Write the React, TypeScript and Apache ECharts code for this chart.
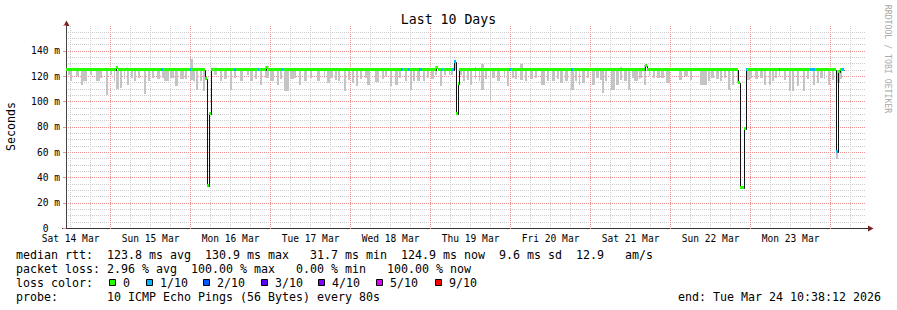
import React, { useEffect, useRef } from 'react';
import * as echarts from 'echarts';

// ---- time axis (hours after Sat 14 Mar 00:00) ----
const T_START = 10.637; // Sat 14 Mar 10:38:12
const T_END = 250.637; // Tue 24 Mar 10:38:12
const Y_MAX = 160; // ms

const dayLabels = ['Sat 14 Mar', 'Sun 15 Mar', 'Mon 16 Mar', 'Tue 17 Mar', 'Wed 18 Mar', 'Thu 19 Mar', 'Fri 20 Mar', 'Sat 21 Mar', 'Sun 22 Mar', 'Mon 23 Mar'];
const dayLabelHours = [12, 36, 60, 84, 108, 132, 156, 180, 204, 228];

// median rtt steps: [hour, ms] (value holds until next step)
const medianSteps: [number, number][] = [
  [10.637, 124.9], [25.6, 126.5], [26.2, 124.9],
  [52.3, 118], [52.9, 33.5], [53.5, 90], [54.1, 124.9],
  [70.7, 126.5], [71.3, 124.9],
  [121.6, 126.8], [122.2, 124.9],
  [126.9, 131.5], [127.5, 90.5], [128.2, 114], [128.6, 124.9],
  [184.3, 128.5], [184.9, 124.9],
  [212.3, 115], [212.8, 31.8], [214.0, 78.5], [214.6, 124.9],
  [241.5, 60], [242.1, 123.5], [242.7, 124.9], [243.9, 124.9],
];

// periods with packet loss: [start hour, end hour, loss level index]
const lossSpans: [number, number, number][] = [
  [39.2, 39.8, 1], [47.7, 48.2, 1], [61.1, 61.6, 1], [68.1, 68.6, 1], [75.4, 75.8, 1],
  [111.2, 111.8, 1], [113.3, 113.9, 1], [116.6, 117.5, 1], [123.4, 123.8, 1],
  [126.5, 126.9, 1], [126.9, 127.5, 1], [143.6, 144.2, 1], [162.2, 162.8, 1],
  [214.6, 215.0, 1], [224.4, 224.8, 1], [233.9, 235.4, 1], [241.5, 242.1, 1], [243.4, 243.9, 1],
];

// smoke (ping spread): [start hour, end hour, low ms, high ms]
const smokeBars: [number, number, number, number][] = [
  [11.1, 11.7, 121, 125], [11.9, 12.5, 116, 125], [13.7, 14.4, 120.5, 125], [15.1, 15.7, 113, 125],
  [15.7, 16.9, 116, 125], [17.9, 18.4, 121, 125], [19.7, 20.7, 116, 125], [20.9, 21.4, 119, 125],
  [22.7, 23.1, 105, 125], [23.9, 24.4, 121, 125], [24.9, 25.4, 116, 125], [25.7, 26.4, 110, 125],
  [26.7, 27.4, 110.6, 125], [27.9, 28.4, 118, 125], [28.9, 29.5, 113, 125], [30.1, 30.7, 119, 125],
  [31.1, 31.7, 116, 125], [32.1, 32.9, 119, 125], [33.9, 34.5, 106, 125], [35.1, 35.7, 116, 125],
  [36.4, 37.1, 119, 125], [37.9, 38.9, 118, 125], [39.4, 39.9, 119, 125], [39.9, 41.4, 116, 125],
  [41.9, 42.9, 119, 125], [43.4, 44.1, 112, 125], [44.9, 45.9, 118, 125], [46.4, 46.9, 118, 125],
  [47.7, 48.7, 117, 134], [48.7, 49.4, 116, 125], [49.7, 50.2, 109, 125], [50.7, 51.4, 116, 125],
  [51.7, 52.3, 108, 125], [55.1, 55.9, 121, 125], [56.9, 57.4, 116, 125], [57.9, 58.9, 118, 125],
  [59.7, 60.4, 109, 125], [60.9, 61.7, 119, 125], [62.9, 63.7, 116, 125], [64.9, 65.4, 121, 125],
  [65.9, 66.7, 116, 125], [67.4, 67.9, 118, 125], [68.7, 69.4, 113, 125], [70.4, 71.5, 119, 128.5],
  [71.9, 72.9, 116, 125], [73.9, 74.4, 113, 125], [74.9, 75.4, 118, 125], [76.1, 77.4, 108, 125],
  [77.9, 78.9, 118, 125], [78.9, 79.7, 119, 125], [80.4, 81.1, 113, 125], [81.9, 82.9, 116, 125],
  [83.9, 84.4, 119, 125], [85.9, 86.9, 116, 125], [87.9, 88.4, 119, 125], [88.9, 89.7, 115, 125],
  [89.9, 90.6, 119, 125], [91.2, 91.9, 117, 125], [92.2, 92.9, 116, 125], [93.9, 94.6, 108.4, 125],
  [95.2, 95.9, 117, 125], [96.4, 96.9, 115, 125], [97.6, 98.2, 112, 125], [98.9, 99.4, 118, 125],
  [100.4, 100.9, 119, 125], [100.9, 101.7, 113, 125], [103.2, 104.4, 115.8, 125], [105.4, 105.9, 118, 125],
  [106.4, 106.9, 120.5, 125], [107.9, 108.4, 112, 125], [109.4, 110.2, 113, 125], [110.6, 111.2, 119, 125],
  [112.2, 112.9, 116, 125], [113.9, 114.4, 109, 125], [114.6, 115.4, 116, 125], [115.9, 116.9, 116, 125],
  [117.6, 118.4, 116, 125], [118.9, 119.4, 119, 125], [120.2, 120.9, 118, 125], [121.4, 122.0, 121, 128.5],
  [122.9, 123.4, 112, 125], [123.9, 124.6, 121, 125], [125.4, 125.9, 121, 125], [126.2, 126.7, 121, 125],
  [126.9, 127.5, 125, 133], [128.4, 129.4, 121, 125], [129.6, 130.4, 116, 125], [130.9, 131.4, 117, 125],
  [131.9, 132.4, 113, 125], [133.2, 133.6, 118, 127.7], [134.4, 134.9, 116, 125], [135.2, 136.0, 109, 129.5],
  [136.4, 136.9, 118, 125], [137.7, 138.1, 101, 125], [138.4, 139.4, 119, 125], [139.9, 140.9, 116, 125],
  [141.9, 142.4, 119, 125], [142.9, 143.4, 112, 125], [144.4, 144.9, 119, 125], [145.4, 145.9, 118, 125],
  [146.9, 147.6, 117, 129.5], [148.2, 148.9, 116, 125], [149.9, 150.6, 118, 125], [151.4, 151.9, 119, 125],
  [153.2, 154.4, 113, 125], [154.9, 155.4, 116, 125], [156.4, 157.4, 116, 125], [157.9, 158.4, 118, 125],
  [158.9, 159.6, 114.5, 125], [160.4, 161.2, 116, 125], [162.2, 162.9, 109, 125], [163.2, 163.9, 116, 125],
  [164.4, 164.9, 113, 125], [165.4, 166.2, 114.5, 125], [166.9, 167.4, 119, 125], [168.4, 169.4, 113, 125],
  [169.7, 170.4, 119, 125], [170.9, 171.4, 117, 125], [171.4, 172.1, 106.6, 125], [172.4, 172.9, 116, 125],
  [174.1, 175.4, 109, 125], [175.7, 176.4, 113, 125], [176.7, 177.4, 117, 127], [177.9, 178.9, 116, 125],
  [179.1, 179.9, 109, 125], [180.4, 180.9, 119, 125], [181.1, 182.1, 116, 125], [182.4, 182.9, 118, 125],
  [182.9, 183.4, 119, 125], [183.9, 184.6, 113, 129], [185.4, 185.9, 120.5, 125], [186.7, 187.4, 119, 125],
  [187.9, 188.9, 119, 125], [189.1, 190.1, 119, 125], [190.7, 191.9, 114.5, 125], [194.4, 195.4, 117, 125],
  [195.9, 197.1, 120, 125], [197.7, 198.4, 117, 125], [200.7, 202.9, 113, 125], [203.1, 203.7, 116, 125],
  [204.1, 204.9, 119, 125], [205.7, 206.4, 118, 125], [206.7, 207.4, 116, 125], [207.9, 208.6, 119, 125],
  [209.1, 209.9, 109, 125], [210.4, 210.9, 113, 125], [211.9, 212.3, 114.5, 125], [214.9, 215.7, 117, 125],
  [215.9, 216.4, 119, 125], [217.4, 218.1, 118, 125], [218.9, 219.7, 119, 125], [219.9, 220.7, 113, 125],
  [221.4, 222.1, 113, 125], [222.4, 222.9, 116, 125], [223.4, 223.9, 119, 125], [224.4, 224.9, 120.5, 125],
  [225.9, 226.7, 117, 125], [227.4, 228.1, 108.4, 125], [228.4, 229.1, 108, 125], [229.9, 230.6, 112, 125],
  [231.7, 232.4, 108, 125], [232.9, 233.4, 118, 125], [234.7, 235.4, 113, 125], [235.9, 236.4, 114.5, 125],
  [236.9, 237.7, 119, 125], [237.9, 238.4, 118, 125], [239.1, 239.9, 113, 125], [240.4, 240.9, 117, 125],
  [241.5, 242.1, 55, 61], [241.9, 242.7, 114.5, 125], [242.9, 243.4, 118, 125],
];

const lossLabels = ['0', '1/10', '2/10', '3/10', '4/10', '5/10', '9/10'];
const lossColors = ['#26ff00', '#00b8ff', '#0059ff', '#5e00ff', '#7e00ff', '#dd00ff', '#ff0000'];

const statsRow1: [number, string][] = [[0, 'median rtt:'], [13, '123.8 ms avg'], [27, '130.9 ms max'], [42, '31.7 ms min'], [55, '124.9 ms now'], [69, '9.6 ms sd'], [80, '12.9'], [87, 'am/s']];
const statsRow2: [number, string][] = [[0, 'packet loss:'], [13, '2.96 % avg'], [25, '100.00 % max'], [40, '0.00 % min'], [53, '100.00 % now']];
const statsRow4: [number, string][] = [[0, 'probe:'], [13, '10 ICMP Echo Pings (56 Bytes) every 80s']];
const endText = 'end: Tue Mar 24 10:38:12 2026';

// ---- layout constants ----
const MONO = '"DejaVu Sans Mono", monospace';
const LEG_X = 16;
const CH = 7.0;
const ROW_Y = [254.5, 268.5, 282.5, 296.5];
const BOX_X = [109, 146, 203, 261, 318, 376, 435];
const MAJOR = '#f09090';
const MINOR = '#cccccc';
const SMOKE = '#c4c4c4';

function valueAt(h: number): number {
  let v = medianSteps[0][1];
  for (const [t, val] of medianSteps) {
    if (t <= h + 1e-9) v = val;
  }
  return v;
}

export default function App() {
  const ref = useRef<HTMLDivElement>(null);

  useEffect(() => {
    if (!ref.current) return;
    const chart = echarts.init(ref.current, undefined, { renderer: 'svg' });

    const gridHours: [number, number][] = [];
    for (let h = 12; h < T_END; h += 6) gridHours.push([h, h % 24 === 0 ? 1 : 0]);

    const stepSegs = medianSteps.slice(0, -1).map((s, i) => [s[0], s[1], medianSteps[i + 1][0], medianSteps[i + 1][1]]);
    const bandSegs = medianSteps.slice(0, -1).map((s, i) => [s[0], medianSteps[i + 1][0], s[1], 0]);
    const lossSegs = lossSpans.map(([s, e, l]) => [s, e, valueAt(s), l]);

    const bandRender = (params: any, api: any) => {
      const a = api.coord([api.value(0), api.value(2)]);
      const b = api.coord([api.value(1), api.value(2)]);
      const x0 = Math.round(a[0]);
      const x1 = Math.max(Math.round(b[0]), x0 + 1);
      const y = Math.floor(a[1] - 1.5);
      return { type: 'rect', shape: { x: x0, y, width: x1 - x0, height: 3 }, style: { fill: lossColors[api.value(3)] } };
    };

    const textStyle = (text: string, size: number, align: string, fill = '#000') => ({
      text, fill, font: `${size}px ${MONO}`, align, verticalAlign: 'middle',
    });

    const graphics: any[] = [];
    graphics.push({ type: 'text', x: 448.5, y: 19.5, style: textStyle('Last 10 Days', 13.2, 'center') });
    graphics.push({ type: 'text', x: 10.5, y: 126.5, rotation: Math.PI / 2, style: textStyle('Seconds', 11.63, 'center') });
    graphics.push({ type: 'text', x: 888, y: 59, rotation: -Math.PI / 2, style: textStyle('RRDTOOL / TOBI OETIKER', 8.2, 'center', '#aaaaaa') });
    // axis arrows & extensions
    graphics.push({ type: 'polygon', shape: { points: [[63.5, 26], [66.5, 20.5], [69.5, 26]] }, style: { fill: '#7f1f1f' } });
    graphics.push({ type: 'polygon', shape: { points: [[868, 225.5], [873.5, 228.5], [868, 231.5]] }, style: { fill: '#7f1f1f' } });
    graphics.push({ type: 'line', shape: { x1: 62, y1: 228.5, x2: 66, y2: 228.5 }, style: { stroke: '#333', lineWidth: 1 } });
    graphics.push({ type: 'line', shape: { x1: 866, y1: 228.5, x2: 869, y2: 228.5 }, style: { stroke: '#333', lineWidth: 1 } });

    const pushRow = (row: [number, string][], y: number) => {
      row.forEach(([col, t]) => graphics.push({ type: 'text', x: LEG_X + col * CH, y, style: textStyle(t, 11.63, 'left') }));
    };
    pushRow(statsRow1, ROW_Y[0]);
    pushRow(statsRow2, ROW_Y[1]);
    pushRow([[0, 'loss color:']], ROW_Y[2]);
    lossLabels.forEach((lab, i) => {
      graphics.push({ type: 'rect', shape: { x: BOX_X[i] + 0.5, y: ROW_Y[2] - 3, width: 6, height: 6 }, style: { fill: lossColors[i], stroke: '#000', lineWidth: 1 } });
      graphics.push({ type: 'text', x: BOX_X[i] + 14, y: ROW_Y[2], style: textStyle(lab, 11.63, 'left') });
    });
    pushRow(statsRow4, ROW_Y[3]);
    graphics.push({ type: 'text', x: 881, y: ROW_Y[3], style: textStyle(endText, 11.63, 'right') });

    const option: any = {
      animation: false,
      backgroundColor: '#ffffff',
      grid: { left: 66, right: 31, top: 25.6, bottom: 81.7, containLabel: false },
      xAxis: {
        type: 'value', min: T_START, max: T_END,
        axisLine: { show: true, onZero: true, lineStyle: { color: '#333', width: 1 } },
        axisTick: { show: false }, axisLabel: { show: false }, splitLine: { show: false },
      },
      yAxis: {
        type: 'value', min: 0, max: Y_MAX, interval: 20,
        axisLine: { show: true, lineStyle: { color: '#444', width: 1 } },
        axisTick: { show: true, length: 3, lineStyle: { color: MAJOR } },
        axisLabel: {
          margin: 6, color: '#000', fontFamily: MONO, fontSize: 9.6,
          formatter: (v: number) => (v >= Y_MAX ? '' : v === 0 ? '{z|0}' : `${v} m`),
          rich: { z: { fontFamily: MONO, fontSize: 9.6, color: '#000', padding: [0, 11.5, 0, 0] } },
        },
        splitLine: { show: true, showMaxLine: false, lineStyle: { color: MAJOR, type: [1, 1], width: 1 } },
        minorTick: { show: false, splitNumber: 4 },
        minorSplitLine: { show: true, lineStyle: { color: MINOR, type: [1, 1], width: 1 } },
      },
      series: [
        {
          type: 'custom', name: 'vgrid', silent: true, data: gridHours, encode: { x: 0, y: 1 },
          renderItem: (params: any, api: any) => {
            const top = api.coord([api.value(0), Y_MAX]);
            const bot = api.coord([api.value(0), 0]);
            const major = api.value(1) === 1;
            const x = Math.floor(top[0]) + 0.5;
            return {
              type: 'line',
              shape: { x1: x, y1: Math.round(top[1]), x2: x, y2: Math.round(bot[1]) + (major ? 2 : 0) },
              style: { stroke: major ? MAJOR : MINOR, lineWidth: 1, lineDash: [1, 1] },
            };
          },
        },
        {
          type: 'custom', name: 'smoke', silent: true, data: smokeBars, encode: { x: [0, 1], y: [2, 3] },
          renderItem: (params: any, api: any) => {
            const a = api.coord([api.value(0), api.value(3)]);
            const b = api.coord([api.value(1), api.value(2)]);
            const x0 = Math.round(a[0]);
            const x1 = Math.max(Math.round(b[0]), x0 + 1);
            const y0 = Math.round(a[1]);
            const y1 = Math.round(b[1]);
            return { type: 'rect', shape: { x: x0, y: y0, width: x1 - x0, height: y1 - y0 }, style: { fill: SMOKE } };
          },
        },
        {
          type: 'custom', name: 'median', silent: true, data: stepSegs, encode: { x: [0, 2], y: [1, 3] },
          renderItem: (params: any, api: any) => {
            const a = api.coord([api.value(0), api.value(1)]);
            const c = api.coord([api.value(2), api.value(3)]);
            const xa = Math.round(a[0]);
            const xb = Math.round(c[0]) + 0.5;
            const ya = Math.round(a[1]) + 0.5;
            const yc = Math.round(c[1]) + 0.5;
            return { type: 'polyline', shape: { points: [[xa, ya], [xb, ya], [xb, yc]] }, style: { stroke: '#111', lineWidth: 1, fill: null } };
          },
        },
        { type: 'custom', name: 'band', silent: true, data: bandSegs, encode: { x: [0, 1], y: 2 }, renderItem: bandRender },
        { type: 'custom', name: 'loss', silent: true, data: lossSegs, encode: { x: [0, 1], y: 2 }, renderItem: bandRender },
        {
          type: 'custom', name: 'dayLabels', silent: true,
          data: dayLabelHours.map((h, i) => [h, i]), encode: { x: 0 },
          renderItem: (params: any, api: any) => {
            const p = api.coord([api.value(0), 0]);
            return { type: 'text', x: p[0], y: p[1] + 10, style: textStyle(dayLabels[api.value(1)], 9.6, 'center') };
          },
        },
      ],
      graphic: graphics,
    };
    chart.setOption(option);
    return () => chart.dispose();
  }, []);

  return <div ref={ref} style={{ position: 'fixed', left: 0, top: 0, width: 897, height: 310, background: '#fff' }} />;
}
